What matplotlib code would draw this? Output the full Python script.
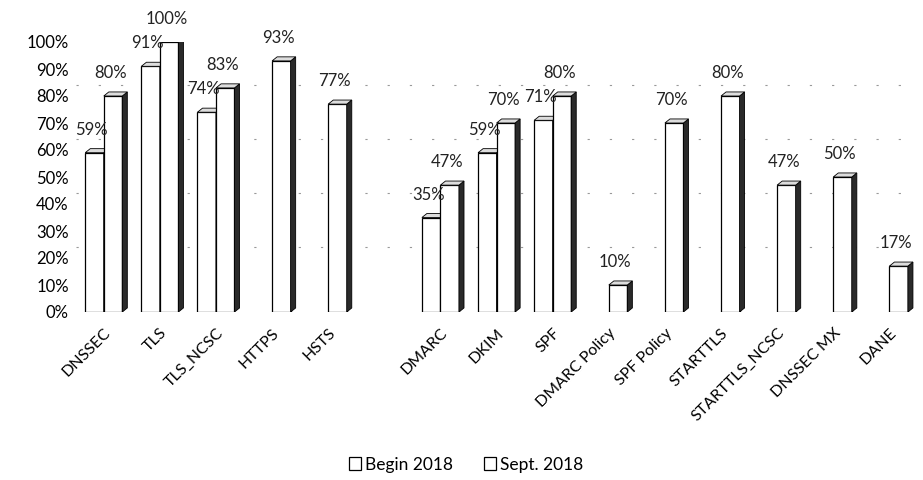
import matplotlib
matplotlib.use("Agg")
import matplotlib.pyplot as plt
from matplotlib.patches import Polygon
import numpy as np

plt.rcParams['font.family'] = ['Lato', 'DejaVu Sans']

categories = ["DNSSEC", "TLS", "TLS_NCSC", "HTTPS", "HSTS", "",
              "DMARC", "DKIM", "SPF", "DMARC Policy", "SPF Policy",
              "STARTTLS", "STARTTLS_NCSC", "DNSSEC MX", "DANE"]
begin_2018 = [0.59, 0.91, 0.74, None, None, None,
              0.35, 0.59, 0.71, None, None, None, None, None, None]
sept_2018 = [0.80, 1.00, 0.83, 0.93, 0.77, None,
             0.47, 0.70, 0.80, 0.10, 0.70, 0.80, 0.47, 0.50, 0.17]
yticks = [i / 10 for i in range(11)]
legend_labels = ["Begin 2018", "Sept. 2018"]

fig = plt.figure(figsize=(9.23, 4.8), dpi=100)
ax = fig.add_axes([0.082, 0.35, 0.915, 0.5625])

x = np.arange(len(categories))
w = 0.33
dx, dy = 0.09, 0.015
side_col = '#2a2a2a'
top_col = '#dddddd'

# faint gridlines (back wall)
for t in yticks[::2]:
    if t == 0:
        continue
    ax.axhline(t + 0.04, color='#999999', lw=0.8, ls=(0, (2, 18)), zorder=0)


def draw_series(vals, offset):
    xs = [xi + offset for xi, v in zip(x, vals) if v is not None]
    hs = [v for v in vals if v is not None]
    ax.bar(xs, hs, width=w, color='white', edgecolor='black', lw=0.9, zorder=3)
    for xc, h in zip(xs, hs):
        r = xc + w / 2
        l = xc - w / 2
        side = Polygon([(r, 0), (r + dx, dy), (r + dx, h + dy), (r, h)],
                       closed=True, facecolor=side_col, edgecolor='black', lw=0.6, zorder=3)
        top = Polygon([(l, h), (r, h), (r + dx, h + dy), (l + dx, h + dy)],
                      closed=True, facecolor=top_col, edgecolor='black', lw=0.6, zorder=3)
        ax.add_patch(side)
        ax.add_patch(top)
        ax.text(xc - 0.05, h + 0.085, f"{round(h * 100):d}%", ha='center', va='center',
                fontsize=12, color='#222222', zorder=5)


draw_series(begin_2018, -w / 2)
draw_series(sept_2018, w / 2)

ax.set_xlim(-0.5, len(categories) - 0.45)
ax.set_ylim(0, 1.0)
ax.set_yticks(yticks)
ax.set_yticklabels([f"{int(t * 100)}%" for t in yticks], fontsize=12)
ax.set_xticks(x)
ax.set_xticklabels(categories, rotation=45, ha='right', rotation_mode='anchor', fontsize=11.5)
ax.tick_params(length=0, pad=5)
ax.tick_params(axis='x', pad=10)
for s in ax.spines.values():
    s.set_visible(False)

handles = [plt.Rectangle((0, 0), 1, 1, facecolor='white', edgecolor='black', lw=0.9) for _ in legend_labels]
fig.legend(handles, legend_labels, loc='center', bbox_to_anchor=(0.505, 0.032), ncol=2,
           frameon=False, fontsize=12.5, handlelength=0.7, handleheight=0.7,
           handletextpad=0.2, columnspacing=1.8)

fig.savefig("out.png", dpi=100)
